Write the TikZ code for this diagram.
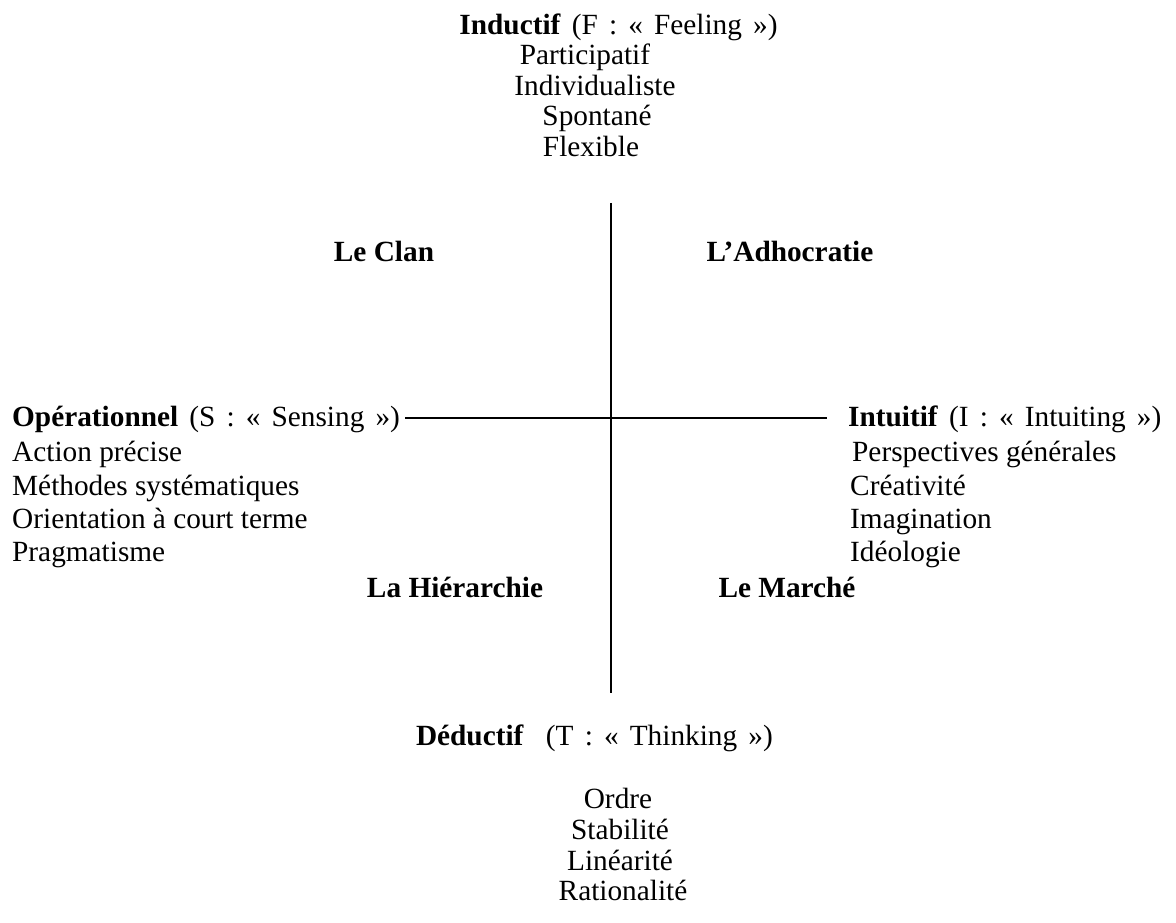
\documentclass[tikz,border=0pt]{standalone}
\usepackage{fontspec}
\setmainfont{Liberation Serif}
\newcommand\hsp{\hspace{0.38em}}
\begin{document}
\begin{tikzpicture}[x=1pt,y=-1pt,
  txt/.style={inner sep=0pt,font=\fontsize{29.3}{33}\selectfont},
  lbl/.style={txt,font=\fontsize{29.3}{33}\selectfont\bfseries},
  axis/.style={line width=2pt,black}]
\useasboundingbox (0,0) rectangle (1176,923);
% top
\node[txt,anchor=base] (F) at (618.5,35) {\textbf{Inductif}\hsp(F\hsp:\hsp«\hsp Feeling\hsp»)};
\node[txt,anchor=base] (f1) at (585,65) {Participatif};
\node[txt,anchor=base] (f2) at (595,96) {Individualiste};
\node[txt,anchor=base] (f3) at (597,126) {Spontané};
\node[txt,anchor=base] (f4) at (591,157) {Flexible};
% left
\node[txt,anchor=base west] (S) at (12,426) {\textbf{Opérationnel}\hsp(S\hsp:\hsp«\hsp Sensing\hsp»)};
\node[txt,anchor=base west] (s1) at (12,461) {Action précise};
\node[txt,anchor=base west] (s2) at (12,495) {Méthodes systématiques};
\node[txt,anchor=base west] (s3) at (12,528) {Orientation à court terme};
\node[txt,anchor=base west] (s4) at (12,561) {Pragmatisme};
% right
\node[txt,anchor=base west] (I) at (848,426) {\textbf{Intuitif}\hsp(I\hsp:\hsp«\hsp Intuiting\hsp»)};
\node[txt,anchor=base west] (i1) at (852,461) {Perspectives générales};
\node[txt,anchor=base west] (i2) at (850,495) {Créativité};
\node[txt,anchor=base west] (i3) at (850,528) {Imagination};
\node[txt,anchor=base west] (i4) at (850,561) {Idéologie};
% bottom
\node[txt,anchor=base east] (T) at (773,745) {\textbf{Déductif}\hsp\hsp(T\hsp:\hsp«\hsp Thinking\hsp»)};
\node[txt,anchor=base] (t1) at (618,808) {Ordre};
\node[txt,anchor=base] (t2) at (620,839) {Stabilité};
\node[txt,anchor=base] (t3) at (620,870) {Linéarité};
\node[txt,anchor=base] (t4) at (623,900) {Rationalité};
% quadrant labels
\node[lbl,anchor=base] (q1) at (384,261) {Le Clan};
\node[lbl,anchor=base] (q2) at (790,261) {L’Adhocratie};
\node[lbl,anchor=base] (q3) at (455,597) {La Hiérarchie};
\node[lbl,anchor=base] (q4) at (787,597) {Le Marché};
% axes
\coordinate (vt) at (611,203);
\coordinate (vb) at (611,693);
\draw[axis] (vt) -- (vb);
\coordinate (hl) at ([xshift=5pt,yshift=8pt]S.base east);
\coordinate (hr) at ([xshift=-21pt,yshift=8pt]I.base west);
\draw[axis] (hl) -- (hr);
\end{tikzpicture}
\end{document}
